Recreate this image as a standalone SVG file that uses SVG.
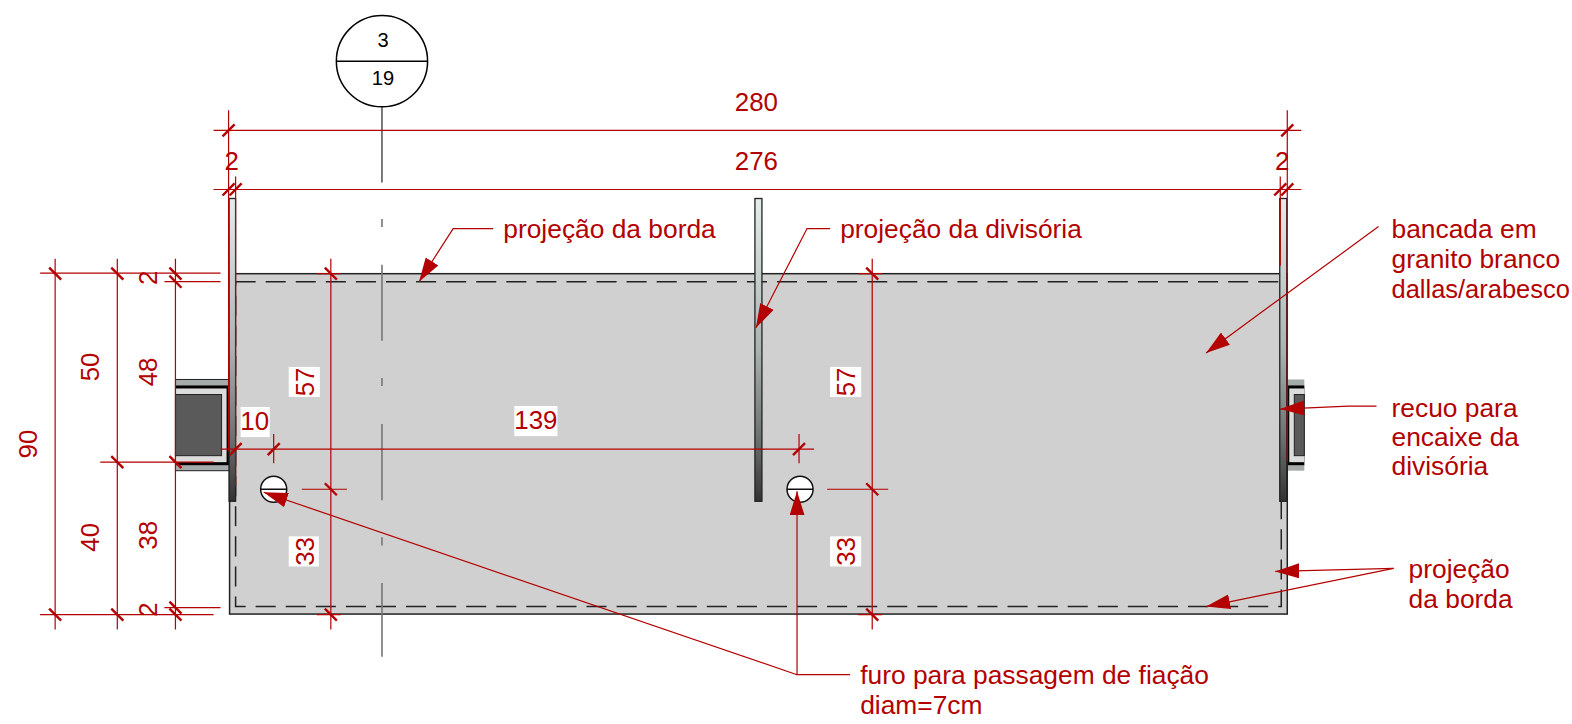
<svg xmlns="http://www.w3.org/2000/svg" width="1572" height="724" viewBox="0 0 1572 724">
<style>
text{font-family:"Liberation Sans",Arial,sans-serif;font-size:25.800px;fill:#b30000;text-anchor:middle}
text.l{text-anchor:start;font-size:26.300px}
text.k{fill:#000;font-size:20px}
.d{stroke:#b30000;stroke-width:1.2;fill:none}
.t{stroke:#b30000;stroke-width:2.4;fill:none}
.ld{stroke:#b30000;stroke-width:1.2;fill:none;marker-end:url(#a)}
.bg{fill:#fff}
.post{fill:url(#g);stroke:#222;stroke-width:1.3}
</style>
<defs>
<linearGradient id="g" x1="0" y1="0" x2="0" y2="1"><stop offset="0" stop-color="#e4ecec"/><stop offset=".5" stop-color="#aab2b2"/><stop offset=".8" stop-color="#6a6e6e"/><stop offset="1" stop-color="#333"/></linearGradient>
<marker id="a" markerUnits="userSpaceOnUse" markerWidth="26" markerHeight="16" refX="24" refY="7.500" orient="auto"><path d="M0 0L24 7.500L0 15Z" fill="#b30000"/></marker>
<path id="f" d="M-6 6L6-6" class="t"/>
<path id="b" d="M-6-6L6 6" class="t"/>
</defs>
<g transform="scale(1.00255)">
<g id="walls">
<rect x="175" y="378.500" width="54" height="91" fill="#a5aaaa" stroke="#222" stroke-width="1"/>
<rect x="175" y="384.500" width="54" height="79.500" fill="#000"/>
<rect x="175" y="387.500" width="51" height="73.500" fill="#dcdcdc"/>
<rect x="175" y="393.500" width="46" height="61" fill="#5a5a5a" stroke="#222"/>
<rect x="1283" y="378.500" width="18" height="91" fill="#a5aaaa"/>
<rect x="1283" y="384.500" width="18" height="79.500" fill="#000"/>
<rect x="1286" y="387.500" width="15" height="73.500" fill="#dcdcdc"/>
<rect x="1291" y="393.500" width="10" height="61" fill="#5a5a5a" stroke="#222"/>
</g>
<g id="bancada">
<rect x="229" y="273" width="1055" height="339.500" fill="#d0d0d0" stroke="#222" stroke-width="1.500"/>
<rect x="235" y="281" width="1043" height="324" fill="none" stroke="#222" stroke-width="1.500" stroke-dasharray="20 10"/>
</g>
<g id="divisoria-esq"><rect class="post" x="228.500" y="198" width="6.500" height="302"/></g>
<g id="divisoria-centro"><rect class="post" x="753" y="198" width="7" height="302"/></g>
<g id="divisoria-dir"><rect class="post" x="1276.500" y="198" width="7" height="302"/></g>
<g id="furo-1"><circle cx="273" cy="488" r="13" fill="#fff" stroke="#111" stroke-width="1.500"/><path d="M260 488H286" stroke="#111" stroke-width="1.500"/></g>
<g id="furo-2"><circle cx="798" cy="488" r="13" fill="#fff" stroke="#111" stroke-width="1.500"/><path d="M785 488H811" stroke="#111" stroke-width="1.500"/></g>
<g id="eixo">
<circle cx="381" cy="61" r="45.500" fill="#fff" stroke="#000" stroke-width="1.500"/>
<path d="M335.500 61H426.500" stroke="#000" stroke-width="1.500"/>
<text class="k" x="382" y="47">3</text>
<text class="k" x="382" y="85">19</text>
<path d="M381 106.500V182" stroke="#222" stroke-width="1.200" fill="none"/>
<path d="M381 218.500V226.500M381 264V340M381 377V385M381 423V499M381 536V544M381 581.500V655" stroke="#777" stroke-width="1.600" fill="none"/>
</g>
<g id="connectors">
<path class="d" d="M213 130H1298M213 189H1298M228 110V450M235 176V485M1277 176V265M1284 110V460"/>
<path class="d" d="M40 272.500H220M164 281H220M100 461H213M164 606H220M40 613H213"/>
<path class="d" d="M55 258V628M117 258V628M175 258V628"/>
<path class="d" d="M330 258V628M870 258V628M316 273H340M856 273H880M316 613H340M856 613H880M301 488H346M825 488H886"/>
<path class="d" d="M220 448H812M273 433V462M797 433V462"/>
<use href="#f" x="228" y="130"/><use href="#f" x="1284" y="130"/>
<use href="#f" x="228" y="189"/><use href="#f" x="235" y="189"/><use href="#f" x="1277" y="189"/><use href="#f" x="1284" y="189"/>
<use href="#f" x="235" y="448"/><use href="#f" x="273" y="448"/><use href="#f" x="797" y="448"/>
<use href="#b" x="55" y="273"/><use href="#b" x="55" y="613"/>
<use href="#b" x="117" y="273"/><use href="#b" x="117" y="461"/><use href="#b" x="117" y="613"/>
<use href="#b" x="175" y="273"/><use href="#b" x="175" y="281"/><use href="#b" x="175" y="461"/><use href="#b" x="175" y="606"/><use href="#b" x="175" y="613"/>
<use href="#b" x="330" y="273"/><use href="#b" x="330" y="488"/><use href="#b" x="330" y="613"/>
<use href="#b" x="870" y="273"/><use href="#b" x="870" y="488"/><use href="#b" x="870" y="613"/>
<path class="ld" d="M492 228H452L418 281"/>
<path class="ld" d="M828 228H805L754 327"/>
<path class="ld" d="M1375 226L1203 352"/>
<path class="ld" d="M1373 405H1345L1277 408"/>
<path class="ld" d="M1390 567L1272 570"/>
<path class="ld" d="M1390 567L1203 605"/>
<path class="ld" d="M848 673H795V490"/>
<path class="ld" d="M795 673L263 491"/>
</g>
<g id="cotas">
<rect class="bg" x="288" y="366" width="31" height="30"/><rect class="bg" x="828" y="366" width="31" height="30"/>
<rect class="bg" x="240" y="406" width="29" height="30"/><rect class="bg" x="513" y="405" width="43" height="30"/>
<rect class="bg" x="288" y="535" width="30" height="30"/><rect class="bg" x="828" y="535" width="31" height="30"/>
<text x="754.500" y="111">280</text><text x="754.500" y="170">276</text>
<text x="231" y="170">2</text><text x="1279" y="170">2</text>
<text x="254" y="429">10</text><text x="534.500" y="428">139</text>
<text transform="translate(37 443) rotate(-90)">90</text>
<text transform="translate(99 366) rotate(-90)">50</text>
<text transform="translate(99 536) rotate(-90)">40</text>
<text transform="translate(157 371) rotate(-90)">48</text>
<text transform="translate(157 534) rotate(-90)">38</text>
<text transform="translate(157 277) rotate(-90)">2</text>
<text transform="translate(157 608) rotate(-90)">2</text>
<text transform="translate(313 381) rotate(-90)">57</text>
<text transform="translate(853 381) rotate(-90)">57</text>
<text transform="translate(313 550) rotate(-90)">33</text>
<text transform="translate(853 550) rotate(-90)">33</text>
</g>
<g id="notas">
<text class="l" x="502" y="237">projeção da borda</text>
<text class="l" x="838" y="237">projeção da divisória</text>
<text class="l" x="1388" y="237">bancada em</text>
<text class="l" x="1388" y="267">granito branco</text>
<text class="l" x="1388" y="297" style="font-size:25.400px">dallas/arabesco</text>
<text class="l" x="1388" y="416">recuo para</text>
<text class="l" x="1388" y="445">encaixe da</text>
<text class="l" x="1388" y="474">divisória</text>
<text class="l" x="1405" y="577">projeção</text>
<text class="l" x="1405" y="606">da borda</text>
<text class="l" x="858" y="682">furo para passagem de fiação</text>
<text class="l" x="858" y="712">diam=7cm</text>
</g>
</g>
</svg>
